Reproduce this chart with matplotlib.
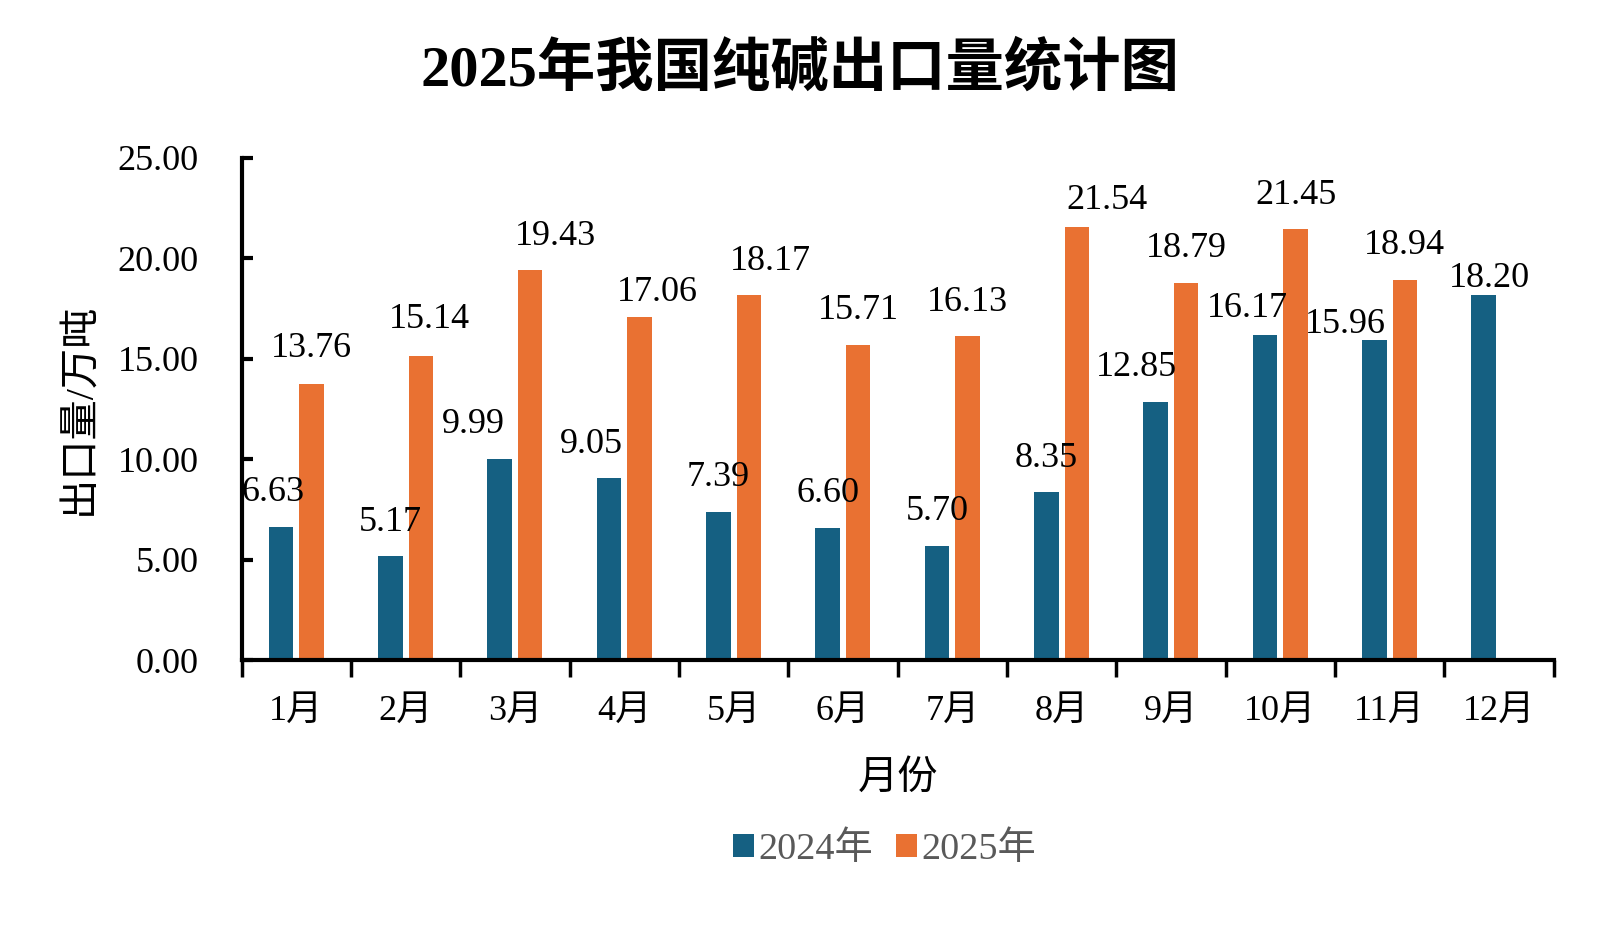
import matplotlib
matplotlib.use("Agg")
import matplotlib.pyplot as plt
import numpy as np

plt.rcParams['font.family'] = ['Liberation Serif', 'Noto Sans CJK SC', 'DejaVu Sans']
plt.rcParams['axes.unicode_minus'] = False

# ---- data ----
months = ['1月', '2月', '3月', '4月', '5月', '6月', '7月', '8月', '9月', '10月', '11月', '12月']
series_names = ['2024年', '2025年']
values_2024 = [6.63, 5.17, 9.99, 9.05, 7.39, 6.60, 5.70, 8.35, 12.85, 16.17, 15.96, 18.20]
values_2025 = [13.76, 15.14, 19.43, 17.06, 18.17, 15.71, 16.13, 21.54, 18.79, 21.45, 18.94, np.nan]
yticks = [0, 5, 10, 15, 20, 25]

# ---- label layout offsets (points) ----
dx_2024 = [-6, 0, -19, -12.5, 0, 0, 0, 0, -14, -13, -21, 4]
dy_2024 = [24.5, 24.5, 25.5, 24.5, 24.5, 24.5, 24.5, 24.5, 24.5, 19, 10.5, 11.5]
dx_2025 = [0, 6, 18.5, 13, 15.5, 0, 0, 22, 0, 0, 0]
dy_2025 = [25.5, 26.5, 24, 18, 24.5, 24.5, 24.5, 19.5, 24.5, 24.5, 24.5]

c2024 = '#156082'
c2025 = '#E97132'

fig = plt.figure(figsize=(16, 9.43), dpi=100)
ax = fig.add_axes([0.151, 0.300, 0.820, 0.5325])

x = np.arange(len(months))
w = 0.224
off = 0.14
b1 = ax.bar(x - off, values_2024, w, color=c2024, label=series_names[0], zorder=2)
b2 = ax.bar(x + off, values_2025, w, color=c2025, label=series_names[1], zorder=2)

fs = 26
for i, v in enumerate(values_2024):
    ax.annotate(f'{v:.2f}', xy=(x[i] - off, v), xytext=(dx_2024[i], dy_2024[i]),
                textcoords='offset points', ha='center', va='center', fontsize=fs, color='black')
for i, v in enumerate(values_2025):
    if np.isnan(v):
        continue
    ax.annotate(f'{v:.2f}', xy=(x[i] + off, v), xytext=(dx_2025[i], dy_2025[i]),
                textcoords='offset points', ha='center', va='center', fontsize=fs, color='black')

ax.set_xlim(-0.5, len(months) - 0.5)
ax.set_ylim(0, 25)
ax.set_yticks(yticks)
ax.set_yticklabels([f'{t:.2f}' for t in yticks], fontsize=fs)
ax.tick_params(axis='y', direction='in', length=8, width=3, pad=31)

ax.set_xticks(np.arange(len(months) + 1) - 0.5)
ax.set_xticklabels([])
ax.tick_params(axis='x', which='major', direction='out', length=12, width=2.5)
ax.set_xticks(x, minor=True)
ax.set_xticklabels(months, minor=True, fontsize=fs)
ax.tick_params(axis='x', which='minor', length=0, pad=25)

for s in ['top', 'right']:
    ax.spines[s].set_visible(False)
for s in ['left', 'bottom']:
    ax.spines[s].set_linewidth(3)

ax.set_xlabel('月份', fontsize=29, va='center', ha='center')
ax.xaxis.set_label_coords(0.5, -0.237)
ax.set_ylabel('出口量/万吨', fontsize=29, va='center', ha='center')
ax.yaxis.set_label_coords(-0.1235, 0.5)

fig.text(0.5, 1 - 70 / 943, '2025年我国纯碱出口量统计图', fontsize=42, fontweight='bold',
         ha='center', va='center')

leg = fig.legend(handles=[b1, b2], labels=series_names, loc='center',
                 bbox_to_anchor=(0.553, 1 - 849 / 943), ncol=2, frameon=False,
                 fontsize=27.5, handlelength=0.55, handleheight=0.55, handletextpad=0.12,
                 columnspacing=0.6)
for t in leg.get_texts():
    t.set_color('#595959')

fig.savefig('out.png', dpi=100)
